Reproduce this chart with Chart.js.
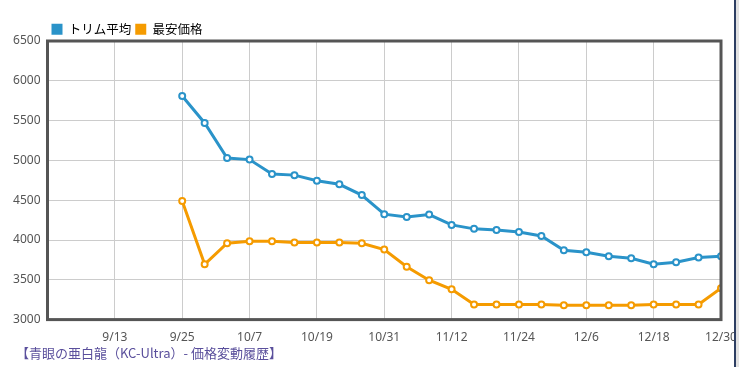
<!DOCTYPE html>
<html>
<head>
<meta charset="utf-8">
<script src="https://cdn.jsdelivr.net/npm/chart.js@4"></script>
<style>
  body { margin: 0; background: #fff; }
  #wrap { position: absolute; left: 0; top: 0; width: 739px; height: 356px; }
  #caption {
    position: absolute; left: 16px; top: 343px;
    font: 13px "Noto Sans CJK JP", sans-serif; color: #5a4f9c;
  }
  #edge { position: absolute; left: 734px; top: 0; width: 2px; height: 367px; background: #2e3f63; }
  #edge2 { position: absolute; left: 736px; top: 0; width: 3px; height: 367px; background: #e2e2e2; }
</style>
</head>
<body>
<div id="wrap"><canvas id="priceChart"></canvas></div>
<div id="caption">【青眼の亜白龍（KC-Ultra）- 価格変動履歴】</div>
<div id="edge"></div>
<div id="edge2"></div>
<script>
// dates of each observation (every 4 days)
const dates = ["9/25", "9/29", "10/3", "10/7", "10/11", "10/15", "10/19", "10/23", "10/27", "10/31",
  "11/4", "11/8", "11/12", "11/16", "11/20", "11/24", "11/28", "12/2", "12/6", "12/10",
  "12/14", "12/18", "12/22", "12/26", "12/30"];

const trimmedAvg = [5810, 5470, 5030, 5010, 4830, 4815, 4745, 4700, 4565, 4325,
  4290, 4320, 4190, 4140, 4125, 4100, 4050, 3870, 3845, 3795,
  3770, 3695, 3720, 3780, 3795];

const lowestPrice = [4490, 3695, 3960, 3985, 3985, 3970, 3970, 3970, 3960, 3880,
  3665, 3495, 3380, 3190, 3190, 3190, 3190, 3180, 3180, 3180,
  3180, 3190, 3190, 3190, 3395];

// x axis ticks, every 12 days starting 9/1
const xTickLabels = ["", "9/13", "9/25", "10/7", "10/19", "10/31", "11/12", "11/24", "12/6", "12/18", "12/30"];

// day number counted from 9/1
const monthStart = { 9: 0, 10: 30, 11: 61, 12: 91 };
function dayOf(str) {
    const [m, d] = str.split("/").map(Number);
    return monthStart[m] + d - 1;
}

const toPoints = values => values.map((v, i) => ({ x: dayOf(dates[i]), y: v }));

// frame around the plot area
const framePlugin = {
    id: "frame",
    afterDatasetsDraw(chart) {
        const { ctx, chartArea } = chart;
        ctx.save();
        ctx.strokeStyle = "#555";
        ctx.lineWidth = 3;
        ctx.strokeRect(chartArea.left, chartArea.top, chartArea.right - chartArea.left, chartArea.bottom - chartArea.top);
        ctx.restore();
    }
};

// legend sits closer to the plot than Chart.js allows by default
const tightLegend = {
    id: "tightLegend",
    beforeLayout(chart) {
        const legend = chart.legend;
        if (legend && !legend._tight) {
            const fit = legend.fit;
            legend.fit = function () {
                fit.call(this);
                this.height -= 4.5;
            };
            legend._tight = true;
        }
    }
};

const ctx = document.getElementById("priceChart").getContext("2d");

new Chart(ctx, {
    type: "line",
    data: {
        datasets: [
            {
                label: "トリム平均",
                data: toPoints(trimmedAvg),
                borderColor: "#2a93c9",
                backgroundColor: "#2a93c9",
                borderWidth: 3,
                pointRadius: 3,
                pointBorderWidth: 2,
                pointBackgroundColor: "#fff",
                pointBorderColor: "#2a93c9"
            },
            {
                label: "最安価格",
                data: toPoints(lowestPrice),
                borderColor: "#f59b00",
                backgroundColor: "#f59b00",
                borderWidth: 3,
                pointRadius: 3,
                pointBorderWidth: 2,
                pointBackgroundColor: "#fff",
                pointBorderColor: "#f59b00"
            }
        ]
    },
    options: {
        responsive: true,
        maintainAspectRatio: false,
        animation: false,
        layout: { padding: { left: 0, right: 0, top: 19, bottom: 0 } },
        plugins: {
            legend: {
                align: "start",
                fullSize: false,
                labels: {
                    boxWidth: 11,
                    boxHeight: 11,
                    padding: 4,
                    color: "#333",
                    font: { size: 12.5, family: "'Noto Sans CJK JP', sans-serif" },
                    generateLabels(chart) {
                        return chart.data.datasets.map((ds, i) => ({
                            text: ds.label,
                            fillStyle: ds.borderColor,
                            strokeStyle: ds.borderColor,
                            lineWidth: 0,
                            datasetIndex: i
                        }));
                    }
                }
            },
            tooltip: { enabled: false }
        },
        scales: {
            x: {
                type: "linear",
                min: 0,
                max: 120,
                grid: { color: "#cccccc", drawTicks: false },
                border: { display: false },
                afterFit(scale) {
                    scale.paddingLeft = 0;
                    scale.paddingRight = 18;
                },
                ticks: {
                    stepSize: 12,
                    padding: 11,
                    maxRotation: 0,
                    color: "#555",
                    font: { size: 12, family: "'Noto Sans', sans-serif" },
                    callback: (value, index) => xTickLabels[index]
                }
            },
            y: {
                min: 3000,
                max: 6500,
                grid: { color: "#cccccc", drawTicks: false },
                border: { display: false },
                afterFit(scale) {
                    scale.width = 47.5;
                },
                ticks: {
                    stepSize: 500,
                    padding: 7,
                    color: "#555",
                    font: { size: 12, family: "'Noto Sans', sans-serif" },
                    callback: value => String(value)
                }
            }
        }
    },
    plugins: [framePlugin, tightLegend]
});
</script>
</body>
</html>
